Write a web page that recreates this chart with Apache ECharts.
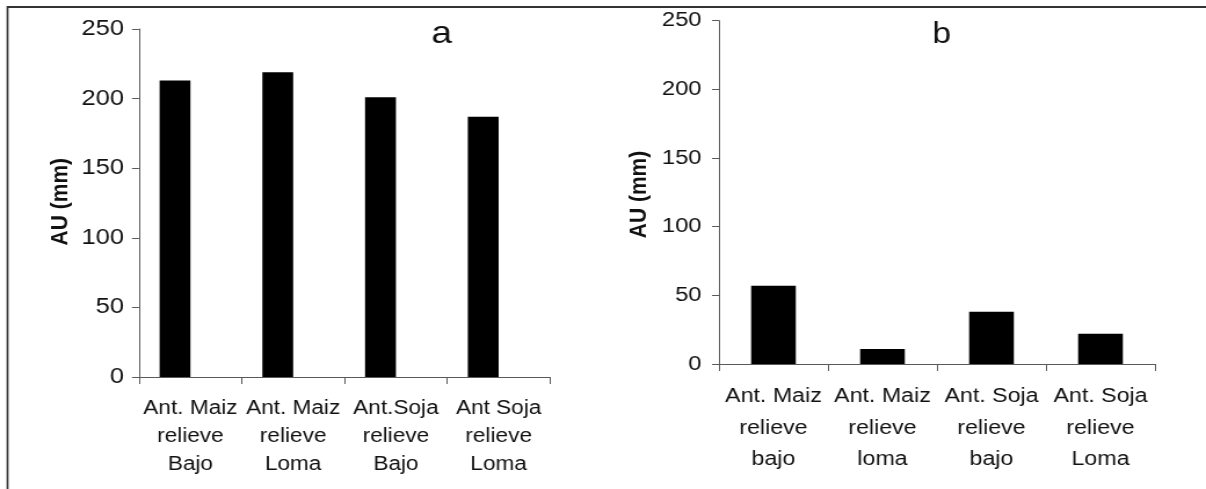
<!DOCTYPE html>
<html>
<head>
<meta charset="utf-8">
<script src="https://cdn.jsdelivr.net/npm/echarts@6/dist/echarts.min.js"></script>
<style>
  html, body { margin: 0; padding: 0; background: #fff; overflow: hidden; }
  #c { width: 1040px; height: 489px; transform: scaleX(1.159615); transform-origin: 0 0; }
</style>
</head>
<body>
<div id="c"></div>
<script>
// ---- data ----
const catsA = ['Ant. Maiz\nrelieve\nBajo', 'Ant. Maiz\nrelieve\nLoma', 'Ant.Soja\nrelieve\nBajo', 'Ant Soja\nrelieve\nLoma'];
const valuesA = [213, 219, 201, 187];
const catsB = ['Ant. Maiz\nrelieve\nbajo', 'Ant. Maiz\nrelieve\nloma', 'Ant. Soja\nrelieve\nbajo', 'Ant. Soja\nrelieve\nLoma'];
const valuesB = [57, 11, 38, 22];
const yTicks = [0, 50, 100, 150, 200, 250];
const panelTitles = ['a', 'b'];
const yAxisTitle = 'AU (mm)';
// empty companion series of panel a (the original had an empty second series beside each bar)
const emptyA = ['-', '-', '-', '-'];

const FONT = '"Liberation Sans", Arial, sans-serif';
const AXIS_COLOR = '#5a5a5a';
const TEXT_COLOR = '#111';

function yAxisCfg(grid, fs, margin) {
  return {
    type: 'value', gridIndex: grid, min: yTicks[0], max: yTicks[yTicks.length - 1], interval: yTicks[1] - yTicks[0],
    axisLine: { show: true, lineStyle: { color: AXIS_COLOR, width: 1 } },
    axisTick: { show: true, length: 6, lineStyle: { color: AXIS_COLOR, width: 1 } },
    splitLine: { show: false },
    axisLabel: { color: TEXT_COLOR, fontFamily: FONT, fontSize: fs, margin: margin }
  };
}
function xAxisCfg(grid, cats, fs, lh, margin) {
  return {
    type: 'category', gridIndex: grid, data: cats, boundaryGap: true,
    axisLine: { show: true, lineStyle: { color: AXIS_COLOR, width: 1 } },
    axisTick: { show: true, length: 7, interval: 0, alignWithLabel: false, lineStyle: { color: AXIS_COLOR, width: 1 } },
    axisLabel: { color: TEXT_COLOR, fontFamily: FONT, fontSize: fs, lineHeight: lh, margin: margin, interval: 0 }
  };
}

const chart = echarts.init(document.getElementById('c'), null, { renderer: 'canvas' });
chart.setOption({
  animation: false,
  backgroundColor: '#fff',
  grid: [
    { left: 119.9, top: 29, width: 354.4, height: 348 },
    { left: 620.0, top: 20.7, width: 376, height: 343.3 }
  ],
  xAxis: [ xAxisCfg(0, catsA, 19.5, 28, 18), xAxisCfg(1, catsB, 20, 31.5, 17) ],
  yAxis: [ yAxisCfg(0, 22, 13), yAxisCfg(1, 20.5, 15) ],
  series: [
    { type: 'bar', xAxisIndex: 0, yAxisIndex: 0, data: valuesA, barWidth: '30%', barGap: '0%', itemStyle: { color: '#000' } },
    { type: 'bar', xAxisIndex: 0, yAxisIndex: 0, data: emptyA, barWidth: '30%', barGap: '0%', itemStyle: { color: '#000' } },
    { type: 'bar', xAxisIndex: 1, yAxisIndex: 1, data: valuesB, barWidth: '41%', itemStyle: { color: '#000' } }
  ],
  graphic: [
    { type: 'line', shape: { x1: 6, y1: 7, x2: 1040, y2: 7 }, style: { stroke: '#333', lineWidth: 2 } },
    { type: 'line', shape: { x1: 6.5, y1: 6, x2: 6.5, y2: 489 }, style: { stroke: '#333', lineWidth: 1.7 } },
    { type: 'text', x: 381, y: 34, style: { text: panelTitles[0], font: '32px ' + FONT, fill: TEXT_COLOR, textAlign: 'center', textVerticalAlign: 'middle' } },
    { type: 'text', x: 812, y: 35, style: { text: panelTitles[1], font: '29px ' + FONT, fill: TEXT_COLOR, textAlign: 'center', textVerticalAlign: 'middle' } },
    { type: 'text', x: 52.6, y: 201.7, rotation: Math.PI / 2, style: { text: yAxisTitle, font: 'bold 21px ' + FONT, fill: TEXT_COLOR, textAlign: 'center', textVerticalAlign: 'middle' } },
    { type: 'text', x: 550.8, y: 194.5, rotation: Math.PI / 2, style: { text: yAxisTitle, font: 'bold 21px ' + FONT, fill: TEXT_COLOR, textAlign: 'center', textVerticalAlign: 'middle' } }
  ]
});
</script>
</body>
</html>
